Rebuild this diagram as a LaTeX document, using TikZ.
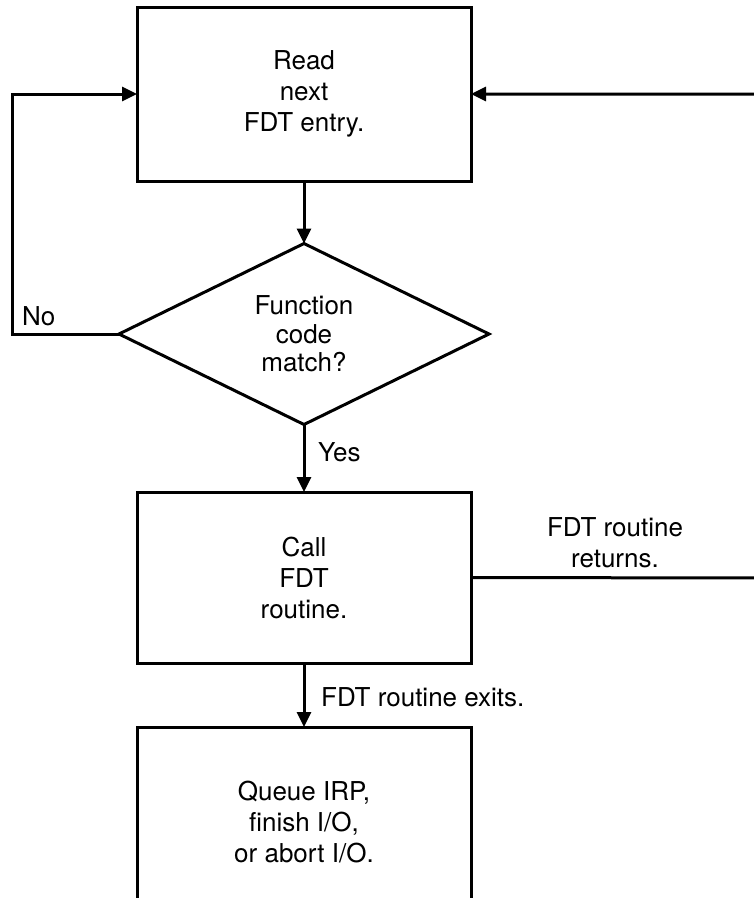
\documentclass[tikz,border=0pt]{standalone}
\usepackage{fontspec}
\setmainfont{TeX Gyre Heros}
\usetikzlibrary{shapes.geometric,arrows.meta}
\begin{document}
\begin{tikzpicture}[x=1pt,y=-1pt,
  every node/.style={font=\fontsize{26}{31}\selectfont},
  procbox/.style={draw,line width=3pt,minimum width=334pt,inner sep=0pt,outer sep=0pt,align=center},
  decide/.style={draw,line width=3pt,diamond,minimum width=370pt,minimum height=181pt,inner sep=0pt,outer sep=0pt,shape aspect=2,align=center,font=\fontsize{26}{28.5}\selectfont},
  flow/.style={line width=3pt,-{Triangle[length=15pt,width=14pt]}},
  lbl/.style={inner sep=0pt}]
\useasboundingbox (0,0) rectangle (754,898);
\clip (0,0) rectangle (754,898);
\node[procbox,minimum height=174pt] (read) at (304,94) {Read\\next\\FDT entry.};
\node[decide] (match) at (304,334) {Function\\code\\match?};
\node[procbox,minimum height=171pt] (call) at (304,577.5) {Call\\FDT\\routine.};
\node[procbox,minimum height=190pt] (queue) at (304,822) {Queue IRP,\\finish I/O,\\or abort I/O.};
\coordinate (lft) at (12,334);
\coordinate (rgt) at (762,578);
\draw[flow] (read) -- (match);
\draw[flow] (match) -- (call);
\draw[flow] (call) -- (queue);
\draw[flow] (match.west) -- (lft) |- (read.west);
\draw[flow] (call.east) -- (rgt) |- (read.east);
\node[lbl,anchor=south west] (no) at (22,326) {No};
\node[lbl,anchor=west] (yes) at (318,452) {Yes};
\node[lbl,align=center] (ret) at (615,543) {FDT routine\\returns.};
\node[lbl,anchor=west] (exits) at (321,697) {FDT routine exits.};
\end{tikzpicture}
\end{document}
